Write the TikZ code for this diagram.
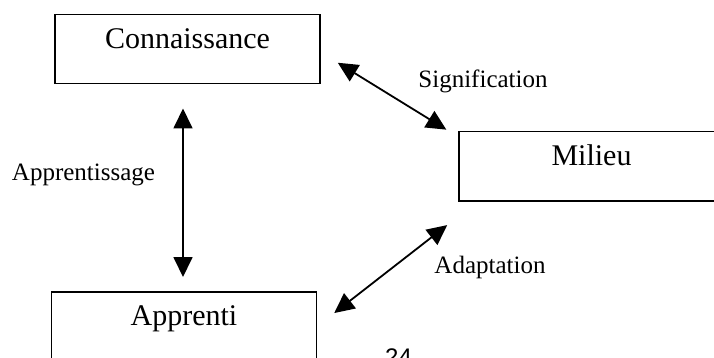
\documentclass[tikz,border=0pt]{standalone}
\usepackage{fontspec}
\setmainfont{Liberation Serif}
\newfontfamily\pagefont{Liberation Sans}
\usetikzlibrary{arrows.meta,calc}

\begin{document}
\begin{tikzpicture}[
  x=1pt, y=-1pt,
  box/.style={draw, line width=1.5pt, anchor=north, minimum width=265pt, inner xsep=0pt, inner ysep=13pt,
    text height=21pt, text depth=22pt, font=\fontsize{30}{36}\selectfont},
  lbl/.style={anchor=base, font=\fontsize{25}{30}\selectfont},
  edge/.style={{Triangle[length=20pt,width=19pt]}-{Triangle[length=20pt,width=19pt]}, line width=1.8pt}
]
\path[use as bounding box, clip] (0,0) rectangle (714,358);

\node[box] (conn) at (187.5,14) {Connaissance};
\node[box] (mil) at (591.5,131) {Milieu};
\node[box] (appr) at (184,291) {Apprenti};

\draw[edge, shorten <=24pt, shorten >=14pt] ([xshift=-4.5pt]conn.south) -- ([xshift=-1pt]appr.north);
\draw[edge, shorten <=20pt, shorten >=14pt] ([yshift=-3pt]conn.east) -- ([yshift=-6pt]mil.north west);
\draw[edge, shorten <=14pt, shorten >=21.5pt] ([yshift=-15pt]mil.south west) -- (appr.east);

\node[lbl] (learn) at (83.5,180) {Apprentissage};
\node[lbl] (sig) at (483,88) {Signification};
\node[lbl] (adapt) at (490,273) {Adaptation};
\node[anchor=base, font=\pagefont\fontsize{24}{28}\selectfont] (pnum) at (398.5,365) {24};
\end{tikzpicture}
\end{document}
